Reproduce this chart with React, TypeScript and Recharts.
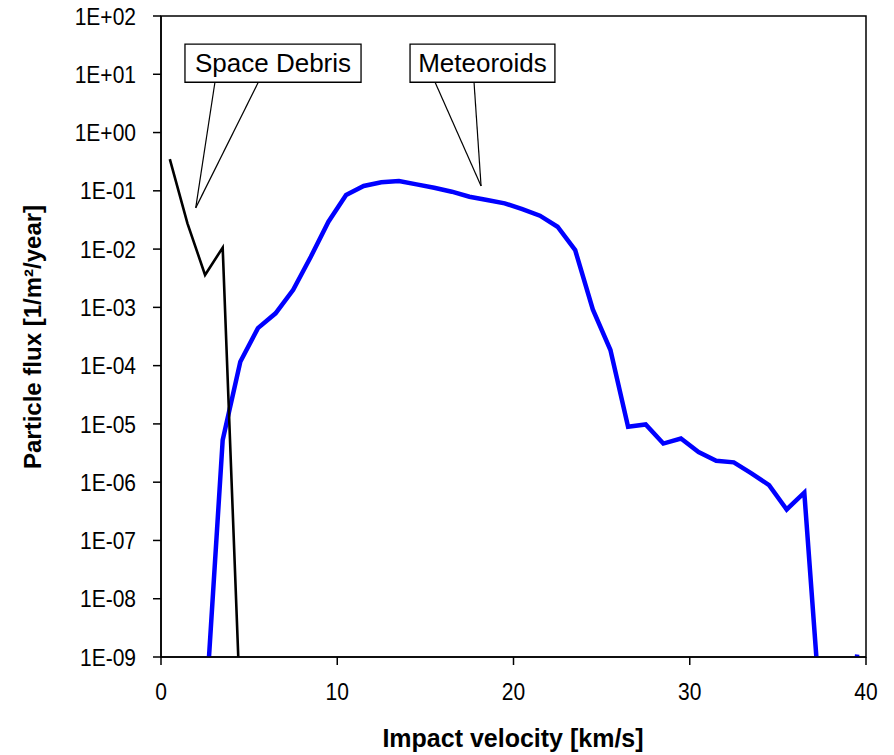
import React from "react";
import {
  LineChart,
  Line,
  XAxis,
  YAxis,
  ReferenceArea,
  ReferenceLine,
} from "recharts";

// space debris curve (impact velocity in km/s, flux in 1/m2/year)
const debrisVelocity = [0.5, 1.5, 2.5, 3.5, 4.5];
const debrisFlux = [0.35, 0.0277, 0.0036, 0.0106, 1.2e-10];

// meteoroid curve
const meteoroidVelocity = [
  2.5, 3.5, 4.5, 5.5, 6.5, 7.5, 8.5, 9.5, 10.5, 11.5, 12.5, 13.5, 14.5, 15.5,
  16.5, 17.5, 18.5, 19.5, 20.5, 21.5, 22.5, 23.5, 24.5, 25.5, 26.5, 27.5, 28.5,
  29.5, 30.5, 31.5, 32.5, 33.5, 34.5, 35.5, 36.5, 37.5, 38.5, 39.5,
];
const meteoroidFlux = [
  8.5e-11, 5.3e-6, 1.17e-4, 4.4e-4, 7.9e-4, 2.0e-3, 7.4e-3, 2.95e-2, 8.5e-2,
  0.121, 0.14, 0.147, 0.129, 0.113, 0.0966, 0.079, 0.0695, 0.061, 0.0487,
  0.0374, 0.0242, 0.0096, 9.2e-4, 1.85e-4, 8.95e-6, 9.8e-6, 4.6e-6, 5.6e-6,
  3.3e-6, 2.33e-6, 2.19e-6, 1.42e-6, 8.9e-7, 3.4e-7, 6.6e-7, 5e-11, 1e-12,
  1.1e-9,
];

const xTicks = [0, 10, 20, 30, 40];
const yTicks = [1e-9, 1e-8, 1e-7, 1e-6, 1e-5, 1e-4, 1e-3, 1e-2, 1e-1, 1, 10, 100];

// callouts, in data units: box corners, wedge base x's, wedge tip
const debrisCallout = {
  text: "Space Debris",
  x1: 1.36,
  x2: 11.35,
  y1: 7.3,
  y2: 33,
  baseX: [3.06, 5.52],
  tip: { x: 1.97, y: 0.051 },
};
const meteoroidCallout = {
  text: "Meteoroids",
  x1: 14.13,
  x2: 22.35,
  y1: 7.3,
  y2: 33,
  baseX: [15.55, 17.76],
  tip: { x: 18.16, y: 0.121 },
};

const debrisData = debrisVelocity.map((v, i) => ({ v, flux: debrisFlux[i] }));
const meteoroidData = meteoroidVelocity.map((v, i) => ({
  v,
  flux: meteoroidFlux[i],
}));

const FONT = "Arial, 'Liberation Sans', sans-serif";
const STRETCH = 1.17; // the original labels are drawn a bit tall

const formatPow = (value: number) => {
  const e = Math.round(Math.log10(value));
  return "1E" + (e < 0 ? "-" : "+") + String(Math.abs(e)).padStart(2, "0");
};

const tallText = (x: number, y: number, anchor: string, label: string) => (
  <text
    x={x}
    y={y}
    textAnchor={anchor}
    dominantBaseline="central"
    fill="#000"
    fontSize={21}
    fontFamily={FONT}
    transform={`translate(${x} ${y}) scale(1 ${STRETCH}) translate(${-x} ${-y})`}
  >
    {label}
  </text>
);

const XTick = (props: any) => {
  const { x, y, payload } = props;
  return tallText(x, y + 10, "middle", String(payload.value));
};

const YTick = (props: any) => {
  const { x, y, payload } = props;
  return tallText(x, y, "end", formatPow(payload.value));
};

const renderCallout = (c: typeof debrisCallout) => [
  <ReferenceArea
    key={c.text + "-box"}
    x1={c.x1}
    x2={c.x2}
    y1={c.y1}
    y2={c.y2}
    ifOverflow="visible"
    fill="#fff"
    fillOpacity={1}
    stroke="#000"
    strokeWidth={1.3}
    label={{
      value: c.text,
      position: "center",
      fill: "#000",
      fontSize: 26,
      fontFamily: FONT,
    }}
  />,
  ...c.baseX.map((bx, i) => (
    <ReferenceLine
      key={c.text + "-w" + i}
      segment={[
        { x: bx, y: c.y1 },
        { x: c.tip.x, y: c.tip.y },
      ]}
      ifOverflow="visible"
      stroke="#000"
      strokeWidth={1.2}
    />
  )),
];

export default function App() {
  return (
    <div
      style={{
        position: "absolute",
        left: 0,
        top: 0,
        width: 894,
        height: 755,
        background: "#fff",
      }}
    >
      <LineChart
        width={894}
        height={755}
        margin={{ top: 16, right: 28, bottom: 0, left: 0 }}
      >
        <XAxis
          type="number"
          dataKey="v"
          domain={[0, 40]}
          ticks={xTicks}
          allowDataOverflow
          height={98}
          tickSize={8}
          tickMargin={16}
          stroke="#000"
          strokeWidth={1.5}
          tick={<XTick />}
        />
        <YAxis
          type="number"
          scale="log"
          domain={[1e-9, 100]}
          ticks={yTicks}
          interval={0}
          allowDataOverflow
          width={161}
          tickSize={8}
          tickMargin={17}
          stroke="#000"
          strokeWidth={1.5}
          tick={<YTick />}
        />
        <ReferenceArea
          x1={0}
          x2={40}
          y1={1e-9}
          y2={100}
          fill="none"
          stroke="#000"
          strokeWidth={1.5}
        />
        {renderCallout(debrisCallout)}
        {renderCallout(meteoroidCallout)}
        <Line
          data={meteoroidData}
          dataKey="flux"
          stroke="#0000ff"
          strokeWidth={4.5}
          dot={false}
          activeDot={false}
          strokeLinejoin="miter"
          isAnimationActive={false}
        />
        <Line
          data={debrisData}
          dataKey="flux"
          stroke="#000"
          strokeWidth={2.6}
          dot={false}
          activeDot={false}
          strokeLinejoin="miter"
          isAnimationActive={false}
        />
      </LineChart>
      <svg
        width={894}
        height={755}
        style={{ position: "absolute", left: 0, top: 0, pointerEvents: "none" }}
      >
        <text
          x={32}
          y={337}
          transform="rotate(-90 32 337)"
          textAnchor="middle"
          dominantBaseline="central"
          fontFamily={FONT}
          fontWeight="bold"
          fontSize={24}
        >
          Particle flux [1/m²/year]
        </text>
        <text
          x={513}
          y={738}
          textAnchor="middle"
          dominantBaseline="central"
          fontFamily={FONT}
          fontWeight="bold"
          fontSize={25}
        >
          Impact velocity [km/s]
        </text>
      </svg>
    </div>
  );
}
